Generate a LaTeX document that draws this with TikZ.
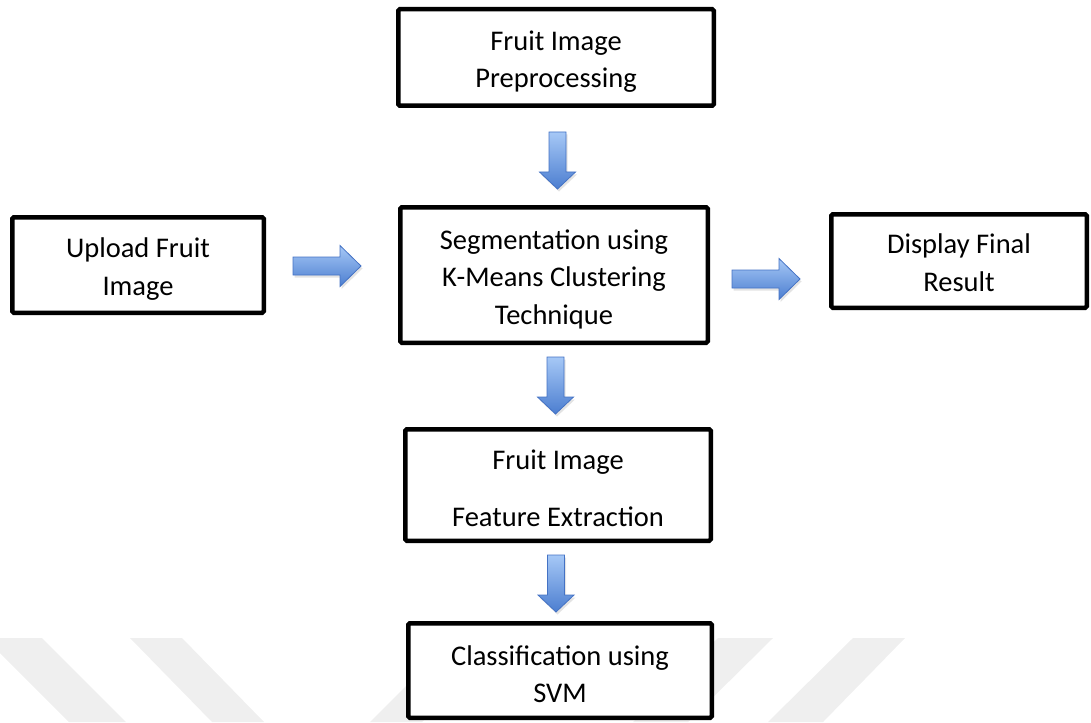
\documentclass[tikz,border=0pt]{standalone}
\usepackage{fontspec}
\setmainfont{Carlito}
\usetikzlibrary{shadows}
\definecolor{arrlight}{HTML}{A6C8F6}
\definecolor{arrdark}{HTML}{4C7ED0}
\definecolor{arredge}{HTML}{4472C4}
\definecolor{wm}{HTML}{EFEFEF}
\tikzset{
  box/.style={draw=black, line width=4.5pt, fill=white, rounded corners=1.5pt,
    inner sep=0pt},
  boxtext/.style={align=center, font=\fontsize{28.5}{37.5}\selectfont,
    inner sep=0pt},
  blockarrow/.style={draw=arredge, line width=0.8pt, top color=arrlight,
    bottom color=arrdark, line join=miter,
    drop shadow={opacity=0.22, shadow xshift=1.5pt, shadow yshift=-2.5pt}},
  wmark/.style={fill=wm, draw=none},
  downarr/.pic={\path[blockarrow] (-8.5,0) -- (8.5,0) -- (8.5,40) -- (18,40)
    -- (0,57) -- (-18,40) -- (-8.5,40) -- cycle;},
  rightarr/.pic={\path[blockarrow] (0,-9) -- (47,-9) -- (47,-20.5) -- (68,0)
    -- (47,20.5) -- (47,9) -- (0,9) -- cycle;}
}
\begin{document}
\begin{tikzpicture}[x=1pt,y=-1pt]
\useasboundingbox (0,0) rectangle (1091,722);
% watermark stripes
\path[wmark] (-15,638) -- (42,638) -- (126,722) -- (69,722) -- cycle;
\path[wmark] (130,638) -- (182,638) -- (264,722) -- (212,722) -- cycle;
\path[wmark] (454,638) -- (506,638) -- (422,722) -- (370,722) -- cycle;
\path[wmark] (718,638) -- (773,638) -- (688,722) -- (633,722) -- cycle;
\path[wmark] (853,638) -- (905,638) -- (823,722) -- (768,722) -- cycle;
% boxes
\node[box, minimum width=315.5pt, minimum height=96.5pt] (pre) at (556,57.5) {};
\node[box, minimum width=251.5pt, minimum height=95.5pt] (upl) at (138,265) {};
\node[box, minimum width=307.5pt, minimum height=135.5pt] (seg) at (554,275) {};
\node[box, minimum width=255.5pt, minimum height=93.5pt] (disp) at (959,261) {};
\node[box, minimum width=305.5pt, minimum height=111.5pt] (feat) at (558,485) {};
\node[box, minimum width=303.5pt, minimum height=94.5pt] (cls) at (560,670.5) {};
% texts
\node[boxtext] (pre-t) at ([yshift=-4pt]pre.center) {Fruit Image\\Preprocessing};
\node[boxtext] (upl-t) at ([yshift=-4pt]upl.center) {Upload Fruit\\Image};
\node[boxtext] (seg-t) at ([yshift=-4pt]seg.center)
  {Segmentation using\\K-Means Clustering\\Technique};
\node[boxtext] (disp-t) at ([yshift=-1.5pt]disp.center) {Display Final\\Result};
\node[boxtext] (feat-t) at ([yshift=-3.5pt]feat.center)
  {Fruit Image\\[19.5pt]Feature Extraction};
\node[boxtext] (cls-t) at ([yshift=-3.5pt]cls.center) {Classification using\\SVM};
% block arrows
\pic (a1) at (557.5,132) {downarr};
\pic (a2) at (555.5,357) {downarr};
\pic (a3) at (556,555) {downarr};
\pic (r1) at (293,266) {rightarr};
\pic (r2) at (732,279) {rightarr};
\end{tikzpicture}
\end{document}
